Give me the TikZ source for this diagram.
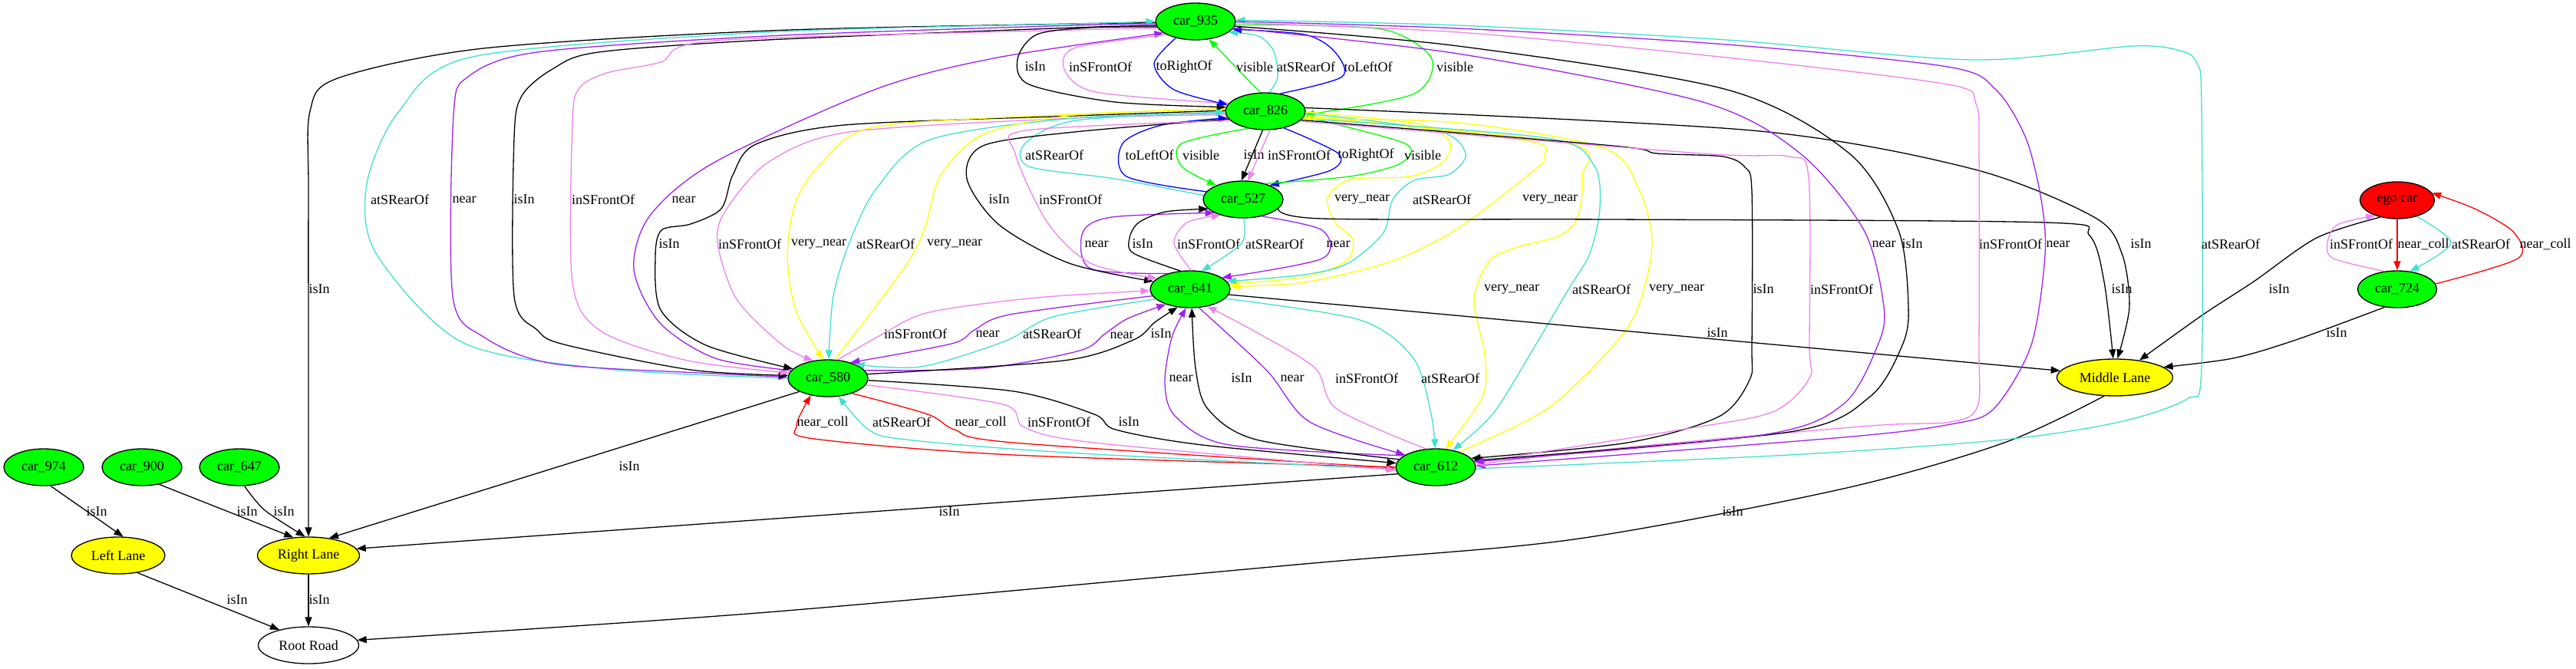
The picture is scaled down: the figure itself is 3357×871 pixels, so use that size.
\documentclass[tikz,border=0pt]{standalone}
\usepackage{fontspec}
\setmainfont{Liberation Serif}
\usetikzlibrary{shapes.geometric,arrows.meta}
\definecolor{cviolet}{HTML}{EE82EE}
\definecolor{cturq}{HTML}{40E0D0}
\definecolor{cpurple}{HTML}{A020F0}
\definecolor{cyellow}{HTML}{FFFF00}
\definecolor{cgreen}{HTML}{00FF00}
\definecolor{cblue}{HTML}{0000FF}
\definecolor{cred}{HTML}{FF0000}
\newcounter{labcnt}
\newcommand\elab[2]{\stepcounter{labcnt}\node[lbl] (lab\arabic{labcnt}) at (#1) {#2};}
\tikzset{
 nd/.style={ellipse, draw=black, line width=1.3pt, minimum height=48pt, inner sep=0pt, font=\fontsize{18}{20}\selectfont},
 car/.style={nd, fill=cgreen, minimum width=104pt},
 lane/.style={nd, fill=cyellow},
 lbl/.style={font=\fontsize{18}{20}\selectfont, inner sep=0pt},
 edg/.style={line width=1.3pt, -{Triangle[length=12pt,width=9pt]}},
 eblk/.style={edg, draw=black},
 evio/.style={edg, draw=cviolet},
 etur/.style={edg, draw=cturq},
 epur/.style={edg, draw=cpurple},
 eyel/.style={edg, draw=cyellow},
 egrn/.style={edg, draw=cgreen},
 eblu/.style={edg, draw=cblue},
 ered/.style={edg, draw=cred},
}
\begin{document}
\begin{tikzpicture}[x=1pt,y=-1pt]
\useasboundingbox (0,0) rectangle (3357,871);
% nodes
\node[car] (n935) at (1558,28) {car\_935};
\node[car] (n826) at (1649,145) {car\_826};
\node[car] (n527) at (1620,260) {car\_527};
\node[car] (n641) at (1551,377) {car\_641};
\node[car] (n580) at (1079,493) {car\_580};
\node[car] (n612) at (1871,609) {car\_612};
\node[nd, fill=cred, minimum width=97pt] (ego) at (3124,261) {ego car};
\node[car, minimum width=103pt] (n724) at (3124,377) {car\_724};
\node[lane, minimum width=151pt] (ML) at (2756,492) {Middle Lane};
\node[car] (n974) at (57,609) {car\_974};
\node[car] (n900) at (185,609) {car\_900};
\node[car] (n647) at (312,609) {car\_647};
\node[lane, minimum width=122pt] (LL) at (154,724) {Left Lane};
\node[lane, minimum width=133pt] (RL) at (402,724) {Right Lane};
\node[nd, fill=white, minimum width=131pt] (RR) at (402,841) {Root Road};

% ---- 935 <-> 580 / RL (left long edges)
\draw[eblk] plot[smooth] coordinates {(n935.182) (1400,31) (1002,40) (630,63) (440,102) (404,145) (402,250) (402,500) (RL.north)};
\elab{416,377}{isIn}
\draw[etur] plot[smooth] coordinates {(n580.180) (791,481) (602,446) (490,330) (478,240) (520,145) (616,74) (1000,42) (1400,31) (n935.180)};
\elab{521,260}{atSRearOf}
\draw[epur] plot[smooth] coordinates {(n935.184) (1400,33) (1000,47) (700,68) (610,100) (591,150) (590,386) (630,439) (721,474) (932,487) (n580.178)};
\elab{605,260}{near}
\draw[eblk] plot[smooth] coordinates {(n935.186) (1400,36) (1000,52) (780,68) (720,90) (680,125) (670,180) (670,386) (700,430) (735,449) (900,482) (n580.176)};
\elab{683,260}{isIn}
\draw[evio] plot[smooth] coordinates {(n935.190) (1400,39) (932,53) (861,81) (791,95) (755,115) (746,160) (746,368) (784,432) (896,470) (n580.172)};
\elab{786,260}{inSFrontOf}
\draw[epur] plot[smooth] coordinates {(n580.168) (932,467) (860,421) (826,351) (847,281) (932,211) (1142,116) (1300,75) (n935.200)};
\elab{891,260}{near}

% ---- 826 <-> 580
\draw[eblk] plot[smooth] coordinates {(n826.179) (1400,151) (1100,163) (985,188) (955,228) (940,272) (900,292) (862,300) (854,335) (861,404) (920,450) (n580.165)};
\elab{872,318}{isIn}
\draw[evio] plot[smooth] coordinates {(n826.185) (1400,154) (1107,172) (1002,211) (946,274) (935,316) (960,390) (1020,450) (n580.130)};
\elab{977,318}{inSFrontOf}
\draw[eyel] plot[smooth] coordinates {(n826.176) (1400,149) (1142,165) (1072,211) (1037,263) (1026,333) (1037,404) (n580.105)};
\elab{1067,318}{very\_near}
\draw[etur] plot[smooth] coordinates {(n826.183) (1400,154) (1212,182) (1142,246) (1107,316) (1086,386) (n580.88)};
\elab{1154,318}{atSRearOf}
\draw[eyel] plot[smooth] coordinates {(n580.70) (1177,351) (1205,298) (1226,228) (1282,175) (1400,150) (n826.177)};
\elab{1244,318}{very\_near}

% ---- 935 <-> 826
\draw[eblk] plot[smooth] coordinates {(n935.188) (1420,36) (1351,45) (1326,77) (1341,110) (1453,133) (n826.174)};
\elab{1349,87}{isIn}
\draw[evio] plot[smooth] coordinates {(n935.205) (1402,62) (1387,90) (1428,120) (n826.168)};
\elab{1434,87}{inSFrontOf}
\draw[eblu] plot[smooth] coordinates {(n935.220) (1504,83) (1530,117) (n826.170)};
\elab{1543,87}{toRightOf}
\draw[egrn] (n826.105) -- (n935.307);
\elab{1635,87}{visible}
\draw[etur] plot[smooth] coordinates {(n826.78) (1665,100) (1660,67) (1640,47) (n935.342)};
\elab{1702,87}{atSRearOf}
\draw[eblu] plot[smooth] coordinates {(n826.50) (1749,100) (1739,67) (1700,45) (n935.348)};
\elab{1783,87}{toLeftOf}
\draw[egrn] plot[smooth] coordinates {(n935.355) (1700,33) (1810,40) (1866,77) (1841,123) (n826.355)};
\elab{1896,87}{visible}

% ---- 826 <-> 527
\draw[etur] plot[smooth] coordinates {(n527.174) (1453,233) (1341,217) (1336,187) (1402,157) (n826.181)};
\elab{1374,202}{atSRearOf}
\draw[eblu] plot[smooth] coordinates {(n527.168) (1468,230) (1463,187) (1514,163) (n826.190)};
\elab{1498,202}{toLeftOf}
\draw[egrn] plot[smooth] coordinates {(n826.225) (1540,187) (1540,217) (n527.152)};
\elab{1565,202}{visible}
\draw[eblk] (n826.262) -- (n527.95);
\elab{1634,202}{isIn}
\draw[evio] (n826.284) -- (n527.76);
\elab{1693,202}{inSFrontOf}
\draw[eblu] plot[smooth] coordinates {(n826.318) (1744,200) (1734,222) (n527.28)};
\elab{1780,202}{toRightOf}
\draw[egrn] plot[smooth] coordinates {(n527.36) (1759,230) (1825,213) (1831,187) (n826.352)};
\elab{1854,202}{visible}

% ---- 527 <-> 641
\draw[epur] plot[smooth] coordinates {(n641.145) (1421,350) (1411,303) (1449,283) (n527.205)};
\elab{1429,318}{near}
\draw[eblk] plot[smooth] coordinates {(n641.118) (1477,330) (1472,310) (1484,290) (1519,276) (n527.195)};
\elab{1489,318}{isIn}
\draw[evio] plot[smooth] coordinates {(n641.87) (1530,317) (1547,290) (n527.215)};
\elab{1575,318}{inSFrontOf}
\draw[etur] plot[smooth] coordinates {(n527.272) (1618,317) (n641.58)};
\elab{1661,318}{atSRearOf}
\draw[epur] plot[smooth] coordinates {(n527.318) (1723,300) (1723,337) (n641.20)};
\elab{1744,318}{near}

% ---- 826 -> 641
\draw[eblk] plot[smooth] coordinates {(n826.192) (1400,172) (1281,190) (1260,233) (1302,293) (1393,343) (n641.168)};
\elab{1302,260}{isIn}
\draw[evio] plot[smooth] coordinates {(n826.195) (1337,170) (1323,200) (1365,290) (1421,343) (n641.162)};
\elab{1395,260}{inSFrontOf}
\draw[eyel] plot[smooth] coordinates {(n826.359) (1850,162) (1889,185) (1880,212) (1838,230) (1760,234) (1730,258) (1740,290) (1763,312) (1755,340) (1700,361) (n641.8)};
\elab{1775,260}{very\_near}
\draw[etur] plot[smooth] coordinates {(n826.357) (1872,170) (1910,200) (1889,227) (1843,235) (1815,260) (1803,303) (1757,343) (1700,358) (n641.12)};
\elab{1879,260}{atSRearOf}
\draw[eyel] plot[smooth] coordinates {(n826.354) (1987,183) (2013,203) (1999,222) (1901,297) (1815,340) (1700,368) (n641.4)};
\elab{2020,260}{very\_near}

% ---- 826 <-> 612
\draw[eyel] plot[smooth] coordinates {(n826.351) (2044,187) (2062,230) (2056,283) (2033,307) (1975,323) (1941,340) (1921,390) (1935,463) (1932,517) (n612.62)};
\elab{1970,377}{very\_near}
\draw[etur] plot[smooth] coordinates {(n826.349) (2016,180) (2077,215) (2085,270) (2072,330) (2044,377) (1995,460) (1945,540) (n612.45)};
\elab{2087,377}{atSRearOf}
\draw[eyel] plot[smooth] coordinates {(n612.33) (2016,533) (2103,450) (2136,397) (2153,317) (2136,247) (2090,193) (1900,160) (n826.348)};
\elab{2185,377}{very\_near}
\draw[eblk] plot[smooth] coordinates {(n826.346) (2102,190) (2159,200) (2245,204) (2274,218) (2283,250) (2283,450) (2280,495) (2240,543) (2121,577) (n612.14)};
\elab{2298,377}{isIn}
\draw[evio] plot[smooth] coordinates {(n826.344) (2217,200) (2331,204) (2357,232) (2358,450) (2358,493) (2310,537) (2191,560) (n612.7)};
\elab{2400,377}{inSFrontOf}

% ---- to Middle Lane
\draw[eblk] (n641.352) -- (ML.173);
\elab{2238,434}{isIn}
\draw[eblk] plot[smooth] coordinates {(n527.345) (1723,285) (2100,286) (2665,290) (2723,307) (2742,367) (ML.95)};
\elab{2765,377}{isIn}
\draw[eblk] plot[smooth] coordinates {(n826.5) (2283,170) (2570,220) (2729,283) (2765,330) (2775,400) (ML.82)};
\elab{2790,318}{isIn}
\draw[eblk] plot[smooth] coordinates {(ego.225) (3019,310) (2937,367) (2871,410) (ML.35)};
\elab{2970,377}{isIn}
\draw[eblk] plot[smooth] coordinates {(n724.235) (2992,443) (2910,467) (ML.12)};
\elab{3045,434}{isIn}

% ---- ego <-> 724
\draw[ered] (ego.south) -- (n724.north);
\elab{3158,318}{near\_coll}
\draw[evio] plot[smooth] coordinates {(n724.125) (3041,337) (3033,317) (3046,293) (ego.215)};
\elab{3077,318}{inSFrontOf}
\draw[etur] plot[smooth] coordinates {(ego.320) (3194,317) (n724.55)};
\elab{3233,318}{atSRearOf}
\draw[ered] plot[smooth] coordinates {(n724.8) (3281,337) (3276,303) (3227,273) (ego.12)};
\elab{3317,318}{near\_coll}

% ---- roads
\draw[eblk] plot[smooth] coordinates {(ML.240) (2612,577) (2402,637) (2051,703) (1700,735) (1000,798) (RR.6)};
\elab{2258,667}{isIn}
\draw[eblk] (n612.190) -- (RL.8);
\elab{1237,667}{isIn}
\draw[eblk] (n580.205) -- (RL.40);
\elab{820,608}{isIn}
\draw[eblk] (n974.290) -- (LL.75);
\elab{126,667}{isIn}
\draw[eblk] (n900.315) -- (RL.130);
\elab{322,667}{isIn}
\draw[eblk] plot[smooth] coordinates {(n647.285) (345,665) (RL.100)};
\elab{370,667}{isIn}
\draw[eblk] (LL.318) -- (RR.152);
\elab{309,782}{isIn}
\draw[eblk] (RL.south) -- (RR.north);
\elab{416,782}{isIn}

% ---- 580 <-> 641
\draw[evio] plot[smooth] coordinates {(n580.62) (1151,435) (1211,407) (1351,388) (n641.182)};
\elab{1193,435}{inSFrontOf}
\draw[epur] plot[smooth] coordinates {(n641.190) (1316,410) (1270,430) (1240,448) (n580.35)};
\elab{1287,435}{near}
\draw[etur] plot[smooth] coordinates {(n641.196) (1372,413) (1309,445) (1200,478) (n580.27)};
\elab{1371,435}{atSRearOf}
\draw[epur] plot[smooth] coordinates {(n580.12) (1281,480) (1407,457) (1440,435) (1470,415) (n641.212)};
\elab{1462,437}{near}
\draw[eblk] plot[smooth] coordinates {(n580.6) (1386,470) (1477,443) (1505,420) (n641.235)};
\elab{1513,435}{isIn}

% ---- 641 <-> 612
\draw[epur] plot[smooth] coordinates {(n612.160) (1602,580) (1532,543) (1518,500) (1527,440) (n641.258)};
\elab{1539,493}{near}
\draw[eblk] plot[smooth] coordinates {(n612.168) (1637,573) (1574,533) (1558,480) (n641.275)};
\elab{1618,493}{isIn}
\draw[epur] plot[smooth] coordinates {(n641.295) (1651,483) (1707,550) (n612.158)};
\elab{1684,493}{near}
\draw[evio] plot[smooth] coordinates {(n612.118) (1742,533) (1714,480) (1637,433) (n641.315)};
\elab{1781,493}{inSFrontOf}
\draw[etur] plot[smooth] coordinates {(n641.345) (1772,417) (1842,467) (1865,540) (n612.92)};
\elab{1890,493}{atSRearOf}

% ---- 580 <-> 612
\draw[ered] plot[smooth] coordinates {(n612.180) (1321,593) (1061,572) (1038,555) (n580.225)};
\elab{1072,550}{near\_coll}
\draw[etur] plot[smooth] coordinates {(n612.183) (1391,590) (1181,573) (1132,560) (n580.300)};
\elab{1175,550}{atSRearOf}
\draw[ered] plot[smooth] coordinates {(n580.328) (1209,540) (1244,560) (1321,577) (n612.181)};
\elab{1278,550}{near\_coll}
\draw[evio] plot[smooth] coordinates {(n580.350) (1307,527) (1335,557) (1426,577) (n612.184)};
\elab{1380,550}{inSFrontOf}
\draw[eblk] plot[smooth] coordinates {(n580.357) (1321,510) (1426,540) (1454,560) (1567,580) (n612.174)};
\elab{1471,550}{isIn}

% ---- 935 <-> 612 (right side)
\draw[etur] plot[smooth] coordinates {(n612.358) (2332,593) (2612,573) (2762,550) (2850,520) (2869,480) (2869,133) (2863,83) (2844,67) (2780,60) (2570,78) (2250,52) (1900,33) (n935.2)};
\elab{2907,318}{atSRearOf}
\draw[epur] plot[smooth] coordinates {(n935.0) (1900,37) (2250,58) (2538,87) (2601,117) (2640,180) (2660,260) (2665,333) (2647,450) (2598,533) (2542,553) (2402,570) (n612.2)};
\elab{2682,318}{near}
\draw[evio] plot[smooth] coordinates {(n935.358) (1900,42) (2250,75) (2538,110) (2575,135) (2579,200) (2579,450) (2577,530) (2542,550) (2437,555) (2121,583) (n612.4)};
\elab{2620,318}{inSFrontOf}
\draw[eblk] plot[smooth] coordinates {(n935.353) (1900,60) (2251,117) (2410,200) (2474,300) (2487,400) (2479,450) (2437,517) (2332,563) (n612.10)};
\elab{2492,318}{isIn}
\draw[epur] plot[smooth] coordinates {(n935.350) (1900,70) (2219,133) (2346,200) (2429,300) (2455,400) (2447,450) (2402,527) (2296,567) (n612.8)};
\elab{2455,318}{near}
\end{tikzpicture}
\end{document}
